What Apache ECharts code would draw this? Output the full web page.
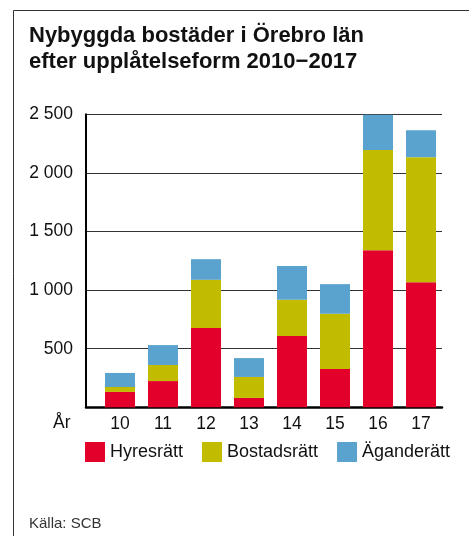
<!DOCTYPE html>
<html><head><meta charset="utf-8">
<script src="https://cdn.jsdelivr.net/npm/echarts@6/dist/echarts.min.js"></script>
<style>html,body{margin:0;padding:0;background:#fff}#c{width:469px;height:536px}</style>
</head><body><div id="c"></div>
<script>
const categories = ['10','11','12','13','14','15','16','17'];
const hyresratt = [131, 224, 676, 80, 608, 327, 1341, 1068];
const bostadsratt = [42, 137, 412, 179, 310, 471, 855, 1066];
const aganderatt = [120, 170, 176, 161, 287, 253, 301, 230];
const yTicks = [0, 500, 1000, 1500, 2000, 2500];
const seriesNames = ['Hyresrätt', 'Bostadsrätt', 'Äganderätt'];
const colors = ['#E3002B', '#C1BC00', '#5BA3CF'];

const FONT = '"Liberation Sans", Arial, sans-serif';
const chart = echarts.init(document.getElementById('c'));
const gTop = 114.3, gBottom = 128.7;
chart.setOption({
  animation: false,
  textStyle: { fontFamily: FONT },
  color: colors,
  title: {
    text: 'Nybyggda bostäder i Örebro län\nefter upplåtelseform 2010−2017',
    left: 24, top: 18,
    textStyle: { fontFamily: FONT, fontWeight: 'bold', fontSize: 22, lineHeight: 26, color: '#111' }
  },
  legend: {
    left: 80, top: 437, itemWidth: 20, itemHeight: 20, itemGap: 19,
    icon: 'rect',
    textStyle: { fontFamily: FONT, fontSize: 18, color: '#111' },
    data: seriesNames
  },
  grid: [
    { left: 86, right: 27, top: gTop, bottom: gBottom },
    { left: 98.5, right: 26.5, top: gTop, bottom: gBottom }
  ],
  xAxis: [
    { type: 'category', gridIndex: 0, data: categories, show: true,
      axisLine: { show: true, lineStyle: { color: '#000', width: 2.5 } },
      axisTick: { show: false }, axisLabel: { show: false } },
    { type: 'category', gridIndex: 1, data: categories,
      axisLine: { show: false }, axisTick: { show: false },
      axisLabel: { fontFamily: FONT, fontSize: 17.5, color: '#111', margin: 8 } }
  ],
  yAxis: [
    { type: 'value', gridIndex: 0, min: yTicks[0], max: yTicks[yTicks.length-1], interval: 500,
      axisLine: { show: true, lineStyle: { color: '#000', width: 2 } },
      axisTick: { show: false },
      splitLine: { lineStyle: { color: '#333', width: 1 } },
      axisLabel: { fontFamily: FONT, fontSize: 17.5, color: '#111', margin: 13,
        formatter: v => v === 0 ? '' : (v >= 1000 ? Math.floor(v/1000) + ' ' + String(v % 1000).padStart(3,'0') : String(v)) } },
    { type: 'value', gridIndex: 1, min: yTicks[0], max: yTicks[yTicks.length-1], interval: 500, show: false }
  ],
  series: [
    { name: seriesNames[0], type: 'bar', stack: 's', xAxisIndex: 1, yAxisIndex: 1, barWidth: 30, data: hyresratt },
    { name: seriesNames[1], type: 'bar', stack: 's', xAxisIndex: 1, yAxisIndex: 1, barWidth: 30, data: bostadsratt },
    { name: seriesNames[2], type: 'bar', stack: 's', xAxisIndex: 1, yAxisIndex: 1, barWidth: 30, data: aganderatt }
  ],
  graphic: [
    { type: 'line', shape: { x1: 13.5, y1: 536, x2: 13.5, y2: 10.5 }, style: { stroke: '#333', lineWidth: 1 } },
    { type: 'line', shape: { x1: 13.5, y1: 10.5, x2: 469, y2: 10.5 }, style: { stroke: '#333', lineWidth: 1 } },
    { type: 'text', left: 53, top: 414, style: { text: 'År', font: '17.5px ' + FONT, fill: '#111' } },
    { type: 'text', left: 29, top: 516, style: { text: 'Källa: SCB', font: '15px ' + FONT, fill: '#333' } }
  ]
});
</script></body></html>
